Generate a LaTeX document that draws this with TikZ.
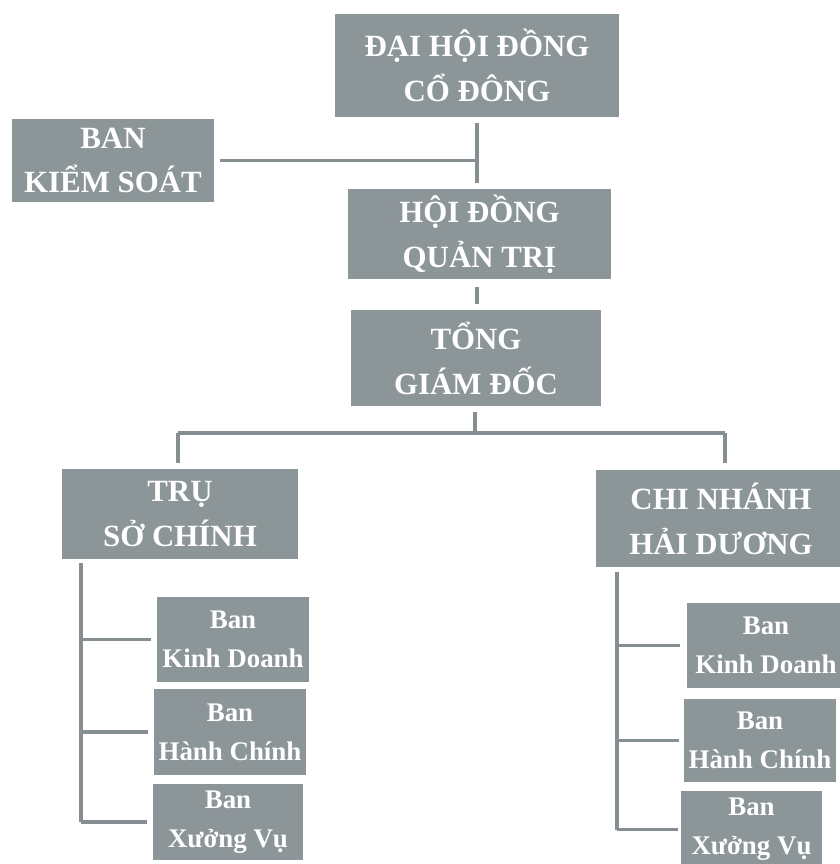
\documentclass[tikz,border=0pt]{standalone}
\usepackage{fontspec}
\setmainfont{Liberation Serif}
\definecolor{boxgray}{RGB}{140,149,152}
\definecolor{linegray}{RGB}{135,142,146}
\begin{document}
\begin{tikzpicture}[x=1bp,y=1bp,
  bigbox/.style={fill=boxgray, text=white, align=center, inner sep=0pt,
    font=\bfseries\fontsize{31}{45}\selectfont},
  smallbox/.style={fill=boxgray, text=white, align=center, inner sep=0pt,
    font=\bfseries\fontsize{27}{39}\selectfont},
  conn/.style={draw=linegray, line width=3.5bp}]
\useasboundingbox (0,0) rectangle (840,-864);

% main boxes
\node[bigbox, minimum width=284bp, minimum height=103bp] (dh) at (477,-65.5) {ĐẠI HỘI ĐỒNG\\CỔ ĐÔNG};
\node[bigbox, minimum width=202bp, minimum height=83bp] (bks) at (113,-160.5) {BAN\\KIỂM SOÁT};
\node[bigbox, minimum width=263bp, minimum height=90bp] (hdqt) at (479.5,-234) {HỘI ĐỒNG\\QUẢN TRỊ};
\node[bigbox, minimum width=250bp, minimum height=96bp] (tgd) at (476,-358) {TỔNG\\GIÁM ĐỐC};
\node[bigbox, minimum width=236bp, minimum height=90bp] (tsc) at (180,-514) {TRỤ\\SỞ CHÍNH};
\node[bigbox, minimum width=250bp, minimum height=97bp] (cn) at (721,-518.5) {CHI NHÁNH\\HẢI DƯƠNG};

% departments, left
\node[smallbox, minimum width=152bp, minimum height=85bp] (kd1) at (233,-639.5) {Ban\\Kinh Doanh};
\node[smallbox, minimum width=152bp, minimum height=86bp] (hc1) at (230,-732) {Ban\\Hành Chính};
\node[smallbox, minimum width=150bp, minimum height=76bp] (xv1) at (228,-822) {Ban\\Xưởng Vụ};
% departments, right
\node[smallbox, minimum width=158bp, minimum height=85bp] (kd2) at (766,-645.5) {Ban\\Kinh Doanh};
\node[smallbox, minimum width=152bp, minimum height=83bp] (hc2) at (760,-740.5) {Ban\\Hành Chính};
\node[smallbox, minimum width=141bp, minimum height=77bp] (xv2) at (751.5,-829.5) {Ban\\Xưởng Vụ};

% connectors top
\draw[conn, shorten <=6bp, shorten >=6bp] (dh.south) -- (dh.south |- hdqt.north);
\draw[conn, shorten <=6bp] (bks.east) -- (bks.east -| dh.south);
\draw[conn, shorten <=8bp, shorten >=6bp] (dh.south |- hdqt.south) -- (dh.south |- tgd.north);

% fork
\coordinate (jn) at (475,-433);
\coordinate (jl) at (178,-433);
\coordinate (jr) at (725,-433);
\draw[conn, shorten <=6bp] (jn |- tgd.south) -- (jn);
\draw[conn] (jl) -- (jr);
\draw[conn, shorten >=6bp] (jl) -- (jl |- tsc.north);
\draw[conn, shorten >=7bp] (jr) -- (jr |- cn.north);

% left trunk
\coordinate (lt) at (81,-563);
\draw[conn] (lt) -- (lt |- xv1.west);
\draw[conn, shorten >=6bp] (lt |- kd1.west) -- (kd1.west);
\draw[conn, shorten >=6bp] (lt |- hc1.west) -- (hc1.west);
\draw[conn, shorten >=6bp] (lt |- xv1.west) -- (xv1.west);

% right trunk
\coordinate (rt) at (617,-572);
\draw[conn] (rt) -- (rt |- xv2.west);
\draw[conn, shorten >=7bp] (rt |- kd2.west) -- (kd2.west);
\draw[conn, shorten >=5bp] (rt |- hc2.west) -- (hc2.west);
\draw[conn, shorten >=3bp] (rt |- xv2.west) -- (xv2.west);
\end{tikzpicture}
\end{document}
